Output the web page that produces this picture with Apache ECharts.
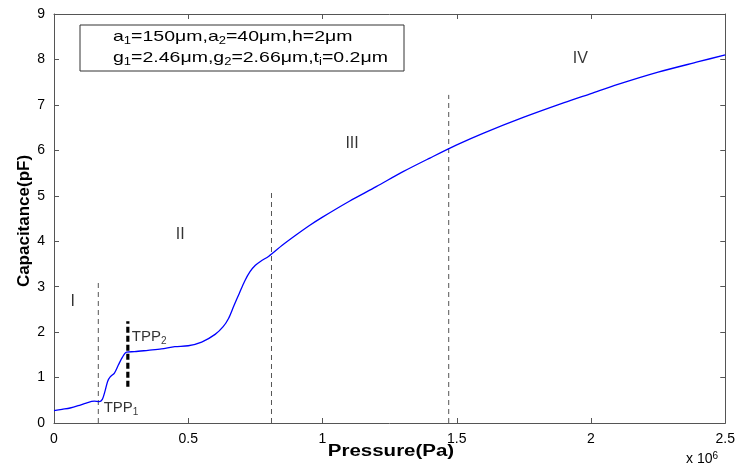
<!DOCTYPE html>
<html><head><meta charset="utf-8">
<script src="https://cdn.jsdelivr.net/npm/echarts@6/dist/echarts.min.js"></script>
<style>html,body{margin:0;padding:0;background:#fff}#c{width:738px;height:465px}</style>
</head><body><div id="c"></div>
<script>
// Pressure in units of 1e6 Pa, capacitance in pF
const pressure = [0,0.03,0.06,0.09,0.12,0.15,0.168,0.18,0.19,0.20,0.21,0.225,0.24,0.255,0.27,0.30,0.35,0.40,0.45,0.50,0.55,0.60,0.63,0.65,0.67,0.69,0.71,0.73,0.75,0.77,0.80,0.85,0.90,0.95,1.0,1.1,1.2,1.3,1.4,1.5,1.6,1.75,1.9,2.0,2.1,2.25,2.4,2.5];
const capacitance = [0.27,0.30,0.33,0.38,0.44,0.48,0.47,0.52,0.70,0.92,1.02,1.10,1.28,1.45,1.56,1.57,1.60,1.63,1.68,1.70,1.78,1.95,2.12,2.30,2.58,2.85,3.12,3.33,3.47,3.56,3.67,3.91,4.13,4.34,4.53,4.88,5.20,5.53,5.83,6.12,6.38,6.73,7.05,7.25,7.45,7.72,7.95,8.10];
const regionLines = [[0.165,0,3.08],[0.81,0,5.08],[1.47,0,7.22]]; // x, yStart, yEnd
const tppLine = [0.275,0.80,2.24];
const regionLabels = [["I",0.07,2.68],["II",0.47,4.15],["III",1.11,6.14],["IV",1.96,8.02]];
const tppLabels = [["{n|TPP}{s|1}",0.185,0.33],["{n|TPP}{s|2}",0.29,1.9]];
const xTicks = [0,0.5,1,1.5,2,2.5];
const yTicks = [0,1,2,3,4,5,6,7,8,9];
const legendLines = ['{n|a}{s|1}{n|=150μm,a}{s|2}{n|=40μm,h=2μm}','{n|g}{s|1}{n|=2.46μm,g}{s|2}{n|=2.66μm,t}{s|i}{n|=0.2μm}'];

const FONT = 'Liberation Sans, Arial, sans-serif';
const chart = echarts.init(document.getElementById('c'));
const series = [];
series.push({type:'line', data: pressure.map((p,i)=>[p,capacitance[i]]), smooth:0.3, showSymbol:false,
  lineStyle:{color:'#0000ff', width:1.3}, z:5});
regionLines.forEach(r=>series.push({type:'line', data:[[r[0],r[1]],[r[0],r[2]]], showSymbol:false,
  lineStyle:{color:'#555', width:1, type:[5,4]}, z:3}));
series.push({type:'line', data:[[tppLine[0],tppLine[1]],[tppLine[0],tppLine[2]]], showSymbol:false,
  lineStyle:{color:'#000', width:3.2, type:[6,3]}, z:4});
const rich = {n:{fontSize:15, fontFamily:FONT, color:'#000'}, s:{fontSize:10, fontFamily:FONT, color:'#000', padding:[9,0,0,0]}};
series.push({type:'scatter', symbolSize:0, z:6,
  data: regionLabels.map(l=>({value:[l[1],l[2]], label:{formatter:l[0]}})),
  label:{show:true, position:'inside', fontSize:16, fontFamily:FONT, color:'#000'}});
series.push({type:'scatter', symbolSize:0, z:6,
  data: tppLabels.map(l=>({value:[l[1],l[2]], label:{formatter:l[0]}})),
  label:{show:true, position:'right', distance:0, rich:rich}});

const axisCommon = {min:0, axisLine:{show:true, onZero:false, lineStyle:{color:'#555', width:1}}, splitLine:{show:false},
  axisTick:{show:true, inside:true, length:5, lineStyle:{color:'#555'}}};
const legRich = {n:{fontSize:15, fontFamily:FONT, fill:'#000'}, s:{fontSize:10, fontFamily:FONT, fill:'#000', padding:[9,0,0,0]}};
chart.setOption({
  animation:false,
  grid:{left:54, right:11, top:14, bottom:42, show:false},
  xAxis:[
    Object.assign({type:'value', max:2.5, interval:0.5, position:'bottom',
      axisLabel:{color:'#000', fontSize:14, fontFamily:FONT, margin:9, formatter:v=>xTicks.includes(v)?String(v):''}}, axisCommon),
    Object.assign({type:'value', max:2.5, interval:0.5, position:'top', axisLabel:{show:false}}, axisCommon)
  ],
  yAxis:[
    Object.assign({type:'value', max:9, interval:1, position:'left',
      axisLabel:{color:'#000', fontSize:14, fontFamily:FONT, margin:9, formatter:v=>yTicks.includes(v)?String(v):''}}, axisCommon),
    Object.assign({type:'value', max:9, interval:1, position:'right', axisLabel:{show:false}}, axisCommon)
  ],
  series: series,
  graphic:[
    {type:'rect', shape:{x:80, y:25, width:324, height:46}, style:{fill:'#fff', stroke:'#333', lineWidth:1}, z:10},
    {type:'text', x:113, y:37, scaleX:1.3, z:11, style:{text:legendLines[0], verticalAlign:'middle', rich:legRich}},
    {type:'text', x:113, y:58, scaleX:1.3, z:11, style:{text:legendLines[1], verticalAlign:'middle', rich:legRich}},
    {type:'text', x:391, y:452, scaleX:1.28, z:11, style:{text:'Pressure(Pa)', align:'center', verticalAlign:'middle',
      font:'bold 16px Liberation Sans, Arial, sans-serif', fill:'#000'}},
    {type:'text', x:24, y:221, rotation:Math.PI/2, z:11, style:{text:'Capacitance(pF)', align:'center', verticalAlign:'middle',
      font:'bold 17px Liberation Sans, Arial, sans-serif', fill:'#000'}},
    {type:'text', x:686, y:456, z:11, style:{text:'{n|x 10}{p|6}', verticalAlign:'middle',
      rich:{n:{fontSize:14, fontFamily:FONT, fill:'#000', padding:[7,0,0,0]}, p:{fontSize:10, fontFamily:FONT, fill:'#000'}}}}
  ]
});
</script></body></html>
